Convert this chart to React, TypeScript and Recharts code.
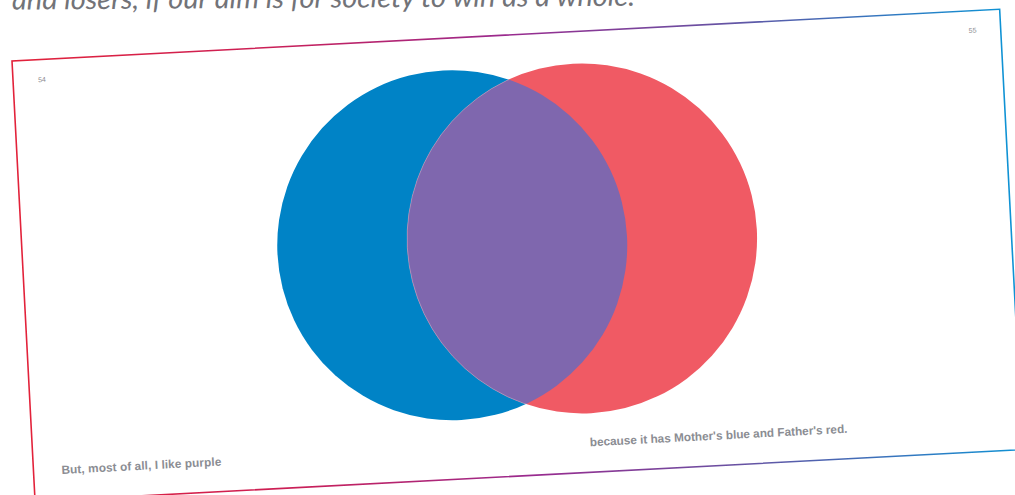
import { ScatterChart, Scatter, XAxis, YAxis, ReferenceArea } from 'recharts';

// page frame units: 1 unit = 1 px on the unrotated page
const PAGE_W = 989;
const PAGE_H = 441;

const circleNames = ['Mother', 'Father'];
const circleX = [430, 560];
const circleY = [207, 207];
const circleR = [175, 175];

const pageNumbers = ['54', '55'];
const captions = ['But, most of all, I like purple', "because it has Mother's blue and Father's red."];
const headline = 'and losers, if our aim is for society to win as a whole.';

const BLUE = '#0083C6';
const RED = '#F05A64';
const PURPLE = '#7F67AE';

const blueData = [{ name: circleNames[0], x: circleX[0], y: circleY[0], r: circleR[0] }];
const redData = [{ name: circleNames[1], x: circleX[1], y: circleY[1], r: circleR[1] }];
const overlapData = [{ name: 'purple', x: circleX[1], y: circleY[1], r: circleR[1] }];

// where the small texts sit on the page, and how long they run
const pageNumberData = [
  { text: pageNumbers[0], x: 25, y: 22.5, len: 8 },
  { text: pageNumbers[1], x: 957, y: 22, len: 8 },
];
const captionData = [
  { text: captions[0], x: 28, y: 415, len: 160 },
  { text: captions[1], x: 557, y: 415, len: 258 },
];

const PX = 1; // plot px per page unit

const BlueCircle = (props: any) => {
  const { cx, cy, payload } = props;
  const r = payload.r * PX;
  return (
    <g>
      <defs>
        <clipPath id="blue-clip">
          <circle cx={cx} cy={cy} r={r} />
        </clipPath>
      </defs>
      <circle cx={cx} cy={cy} r={r} fill={BLUE} />
    </g>
  );
};

const RedCircle = (props: any) => {
  const { cx, cy, payload } = props;
  return <circle cx={cx} cy={cy} r={payload.r * PX} fill={RED} />;
};

const Overlap = (props: any) => {
  const { cx, cy, payload } = props;
  return (
    <circle
      cx={cx}
      cy={cy}
      r={payload.r * PX}
      fill={PURPLE}
      stroke="rgba(255,255,255,0.35)"
      strokeWidth={0.8}
      clipPath="url(#blue-clip)"
    />
  );
};

const PageNumber = (props: any) => {
  const { cx, cy, payload } = props;
  return (
    <text x={cx} y={cy} fontSize={7} fill="#8a8a8e" fontFamily="Liberation Sans, Arial, sans-serif">
      {payload.text}
    </text>
  );
};

const Caption = (props: any) => {
  const { cx, cy, payload } = props;
  return (
    <text
      x={cx}
      y={cy}
      fontSize={11.8}
      fontWeight="bold"
      fill="#8b8d93"
      fontFamily="Liberation Sans, Arial, sans-serif"
      textLength={payload.len}
      lengthAdjust="spacing"
    >
      {payload.text}
    </text>
  );
};

export default function App() {
  return (
    <div
      style={{
        position: 'absolute',
        left: 0,
        top: 0,
        width: 1015,
        height: 495,
        overflow: 'hidden',
        background: '#fff',
      }}
    >
      <svg width={1015} height={40} style={{ position: 'absolute', left: 0, top: 0 }}>
        <text
          x={12}
          y={9.5}
          transform="rotate(-0.35 12 9.5)"
          fontSize={28}
          fontStyle="italic"
          fill="#727378"
          fontFamily="Lato, 'Open Sans', sans-serif"
          textLength={623}
          lengthAdjust="spacingAndGlyphs"
        >
          {headline}
        </text>
      </svg>
      <div
        style={{
          position: 'absolute',
          left: 12,
          top: 61,
          width: PAGE_W,
          height: PAGE_H,
          transform: 'rotate(-3deg)',
          transformOrigin: '0 0',
        }}
      >
        <div style={{ position: 'absolute', left: -2, top: -2 }}>
          <ScatterChart
            width={PAGE_W + 4}
            height={PAGE_H + 4}
            margin={{ top: 2, right: 2, bottom: 2, left: 2 }}
          >
            <defs>
              <linearGradient id="pageEdge" x1="0" y1="0" x2="1" y2="0">
                <stop offset="0%" stopColor="#E2223A" />
                <stop offset="25%" stopColor="#CC1F55" />
                <stop offset="50%" stopColor="#9A2A8E" />
                <stop offset="72%" stopColor="#6653A3" />
                <stop offset="100%" stopColor="#0F92D4" />
              </linearGradient>
            </defs>
            <XAxis type="number" dataKey="x" domain={[0, PAGE_W]} hide />
            <YAxis type="number" dataKey="y" domain={[0, PAGE_H]} reversed hide />
            <ReferenceArea
              x1={0}
              x2={PAGE_W}
              y1={0}
              y2={PAGE_H}
              fill="#fff"
              fillOpacity={0}
              stroke="url(#pageEdge)"
              strokeWidth={1.6}
              ifOverflow="visible"
            />
            <Scatter data={blueData} shape={BlueCircle} isAnimationActive={false} />
            <Scatter data={redData} shape={RedCircle} isAnimationActive={false} />
            <Scatter data={overlapData} shape={Overlap} isAnimationActive={false} />
            <Scatter data={pageNumberData} shape={PageNumber} isAnimationActive={false} />
            <Scatter data={captionData} shape={Caption} isAnimationActive={false} />
          </ScatterChart>
        </div>
      </div>
    </div>
  );
}
